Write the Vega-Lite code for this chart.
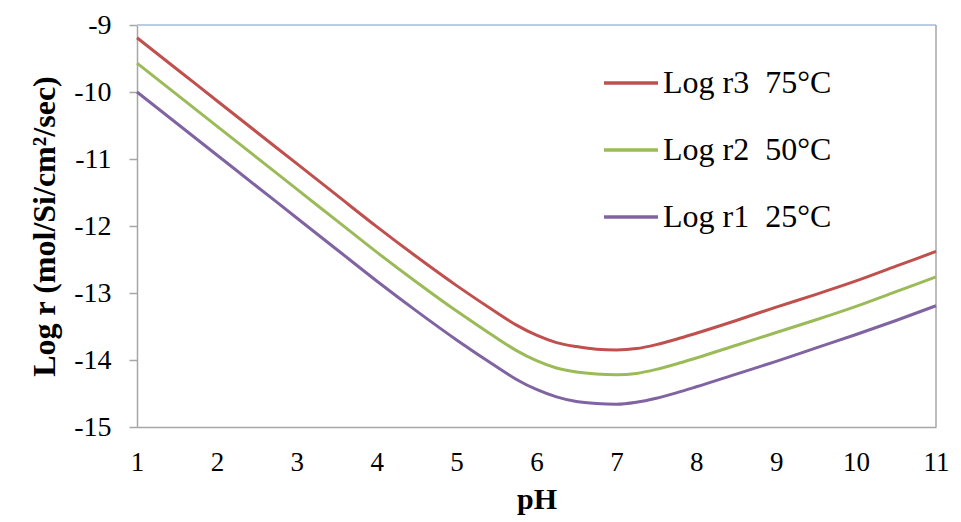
{
  "$schema": "https://vega.github.io/schema/vega-lite/v6.json",
  "autosize": "none",
  "width": 799,
  "height": 402,
  "padding": {"left": 137, "top": 25, "right": 25, "bottom": 95},
  "background": "white",
  "config": {
    "view": {"stroke": null},
    "font": "Liberation Serif"
  },
  "datasets": {
    "curves": [
      {"pH": 1, "series": "Log r3\u00a0 75°C", "logr": -9.19},
      {"pH": 1.5, "series": "Log r3\u00a0 75°C", "logr": -9.66},
      {"pH": 2, "series": "Log r3\u00a0 75°C", "logr": -10.13},
      {"pH": 2.5, "series": "Log r3\u00a0 75°C", "logr": -10.6},
      {"pH": 3, "series": "Log r3\u00a0 75°C", "logr": -11.07},
      {"pH": 3.5, "series": "Log r3\u00a0 75°C", "logr": -11.54},
      {"pH": 4, "series": "Log r3\u00a0 75°C", "logr": -12.01},
      {"pH": 4.5, "series": "Log r3\u00a0 75°C", "logr": -12.46},
      {"pH": 5, "series": "Log r3\u00a0 75°C", "logr": -12.89},
      {"pH": 5.5, "series": "Log r3\u00a0 75°C", "logr": -13.29},
      {"pH": 5.75, "series": "Log r3\u00a0 75°C", "logr": -13.48},
      {"pH": 6, "series": "Log r3\u00a0 75°C", "logr": -13.63},
      {"pH": 6.25, "series": "Log r3\u00a0 75°C", "logr": -13.74},
      {"pH": 6.5, "series": "Log r3\u00a0 75°C", "logr": -13.8},
      {"pH": 6.75, "series": "Log r3\u00a0 75°C", "logr": -13.84},
      {"pH": 7, "series": "Log r3\u00a0 75°C", "logr": -13.85},
      {"pH": 7.25, "series": "Log r3\u00a0 75°C", "logr": -13.83},
      {"pH": 7.5, "series": "Log r3\u00a0 75°C", "logr": -13.77},
      {"pH": 7.75, "series": "Log r3\u00a0 75°C", "logr": -13.69},
      {"pH": 8, "series": "Log r3\u00a0 75°C", "logr": -13.6},
      {"pH": 8.5, "series": "Log r3\u00a0 75°C", "logr": -13.41},
      {"pH": 9, "series": "Log r3\u00a0 75°C", "logr": -13.21},
      {"pH": 9.5, "series": "Log r3\u00a0 75°C", "logr": -13.02},
      {"pH": 10, "series": "Log r3\u00a0 75°C", "logr": -12.82},
      {"pH": 10.5, "series": "Log r3\u00a0 75°C", "logr": -12.6},
      {"pH": 11, "series": "Log r3\u00a0 75°C", "logr": -12.38},
      {"pH": 1, "series": "Log r2\u00a0 50°C", "logr": -9.57},
      {"pH": 1.5, "series": "Log r2\u00a0 50°C", "logr": -10.04},
      {"pH": 2, "series": "Log r2\u00a0 50°C", "logr": -10.51},
      {"pH": 2.5, "series": "Log r2\u00a0 50°C", "logr": -10.98},
      {"pH": 3, "series": "Log r2\u00a0 50°C", "logr": -11.45},
      {"pH": 3.5, "series": "Log r2\u00a0 50°C", "logr": -11.92},
      {"pH": 4, "series": "Log r2\u00a0 50°C", "logr": -12.39},
      {"pH": 4.5, "series": "Log r2\u00a0 50°C", "logr": -12.84},
      {"pH": 5, "series": "Log r2\u00a0 50°C", "logr": -13.27},
      {"pH": 5.5, "series": "Log r2\u00a0 50°C", "logr": -13.67},
      {"pH": 5.75, "series": "Log r2\u00a0 50°C", "logr": -13.86},
      {"pH": 6, "series": "Log r2\u00a0 50°C", "logr": -14.01},
      {"pH": 6.25, "series": "Log r2\u00a0 50°C", "logr": -14.12},
      {"pH": 6.5, "series": "Log r2\u00a0 50°C", "logr": -14.18},
      {"pH": 6.75, "series": "Log r2\u00a0 50°C", "logr": -14.21},
      {"pH": 7, "series": "Log r2\u00a0 50°C", "logr": -14.22},
      {"pH": 7.25, "series": "Log r2\u00a0 50°C", "logr": -14.2},
      {"pH": 7.5, "series": "Log r2\u00a0 50°C", "logr": -14.14},
      {"pH": 7.75, "series": "Log r2\u00a0 50°C", "logr": -14.06},
      {"pH": 8, "series": "Log r2\u00a0 50°C", "logr": -13.97},
      {"pH": 8.5, "series": "Log r2\u00a0 50°C", "logr": -13.78},
      {"pH": 9, "series": "Log r2\u00a0 50°C", "logr": -13.59},
      {"pH": 9.5, "series": "Log r2\u00a0 50°C", "logr": -13.4},
      {"pH": 10, "series": "Log r2\u00a0 50°C", "logr": -13.2},
      {"pH": 10.5, "series": "Log r2\u00a0 50°C", "logr": -12.98},
      {"pH": 11, "series": "Log r2\u00a0 50°C", "logr": -12.76},
      {"pH": 1, "series": "Log r1\u00a0 25°C", "logr": -10.0},
      {"pH": 1.5, "series": "Log r1\u00a0 25°C", "logr": -10.47},
      {"pH": 2, "series": "Log r1\u00a0 25°C", "logr": -10.94},
      {"pH": 2.5, "series": "Log r1\u00a0 25°C", "logr": -11.41},
      {"pH": 3, "series": "Log r1\u00a0 25°C", "logr": -11.88},
      {"pH": 3.5, "series": "Log r1\u00a0 25°C", "logr": -12.35},
      {"pH": 4, "series": "Log r1\u00a0 25°C", "logr": -12.82},
      {"pH": 4.5, "series": "Log r1\u00a0 25°C", "logr": -13.27},
      {"pH": 5, "series": "Log r1\u00a0 25°C", "logr": -13.7},
      {"pH": 5.5, "series": "Log r1\u00a0 25°C", "logr": -14.1},
      {"pH": 5.75, "series": "Log r1\u00a0 25°C", "logr": -14.29},
      {"pH": 6, "series": "Log r1\u00a0 25°C", "logr": -14.44},
      {"pH": 6.25, "series": "Log r1\u00a0 25°C", "logr": -14.55},
      {"pH": 6.5, "series": "Log r1\u00a0 25°C", "logr": -14.62},
      {"pH": 6.75, "series": "Log r1\u00a0 25°C", "logr": -14.65},
      {"pH": 7, "series": "Log r1\u00a0 25°C", "logr": -14.66},
      {"pH": 7.25, "series": "Log r1\u00a0 25°C", "logr": -14.63},
      {"pH": 7.5, "series": "Log r1\u00a0 25°C", "logr": -14.57},
      {"pH": 7.75, "series": "Log r1\u00a0 25°C", "logr": -14.49},
      {"pH": 8, "series": "Log r1\u00a0 25°C", "logr": -14.4},
      {"pH": 8.5, "series": "Log r1\u00a0 25°C", "logr": -14.21},
      {"pH": 9, "series": "Log r1\u00a0 25°C", "logr": -14.02},
      {"pH": 9.5, "series": "Log r1\u00a0 25°C", "logr": -13.82},
      {"pH": 10, "series": "Log r1\u00a0 25°C", "logr": -13.62},
      {"pH": 10.5, "series": "Log r1\u00a0 25°C", "logr": -13.41},
      {"pH": 11, "series": "Log r1\u00a0 25°C", "logr": -13.19}
    ]
  },
  "layer": [
    {
      "data": {"values": [{"top": -9}]},
      "mark": {"type": "rule", "color": "#b9cde5", "strokeWidth": 2},
      "encoding": {"y": {"field": "top", "type": "quantitative", "scale": {"domain": [-15, -9]}}}
    },
    {
      "data": {"values": [{"right": 11}]},
      "mark": {"type": "rule", "color": "#a6a6a6", "strokeWidth": 1.5},
      "encoding": {"x": {"field": "right", "type": "quantitative", "scale": {"domain": [1, 11]}}}
    },
    {
      "data": {"name": "curves"},
      "mark": {"type": "line", "strokeWidth": 3, "interpolate": "monotone"},
      "encoding": {
        "x": {
          "field": "pH", "type": "quantitative",
          "scale": {"domain": [1, 11], "nice": false, "zero": false},
          "axis": {
            "title": "pH", "values": [1,2,3,4,5,6,7,8,9,10,11], "format": "d",
            "ticks": false, "grid": false, "labelFlush": false,
            "domainColor": "#a6a6a6", "domainWidth": 1.5,
            "labelFont": "Liberation Serif", "labelFontSize": 27, "labelColor": "#000",
            "labelPadding": 22,
            "titleFont": "Liberation Serif", "titleFontSize": 30, "titleFontWeight": "bold", "titleColor": "#000",
            "titlePadding": 9
          }
        },
        "y": {
          "field": "logr", "type": "quantitative",
          "scale": {"domain": [-15, -9], "nice": false, "zero": false},
          "axis": {
            "title": "Log r (mol/Si/cm²/sec)", "values": [-15,-14,-13,-12,-11,-10,-9],
            "labelExpr": "'-' + abs(datum.value)", "labelFlush": false,
            "grid": false, "tickSize": 8, "tickColor": "#a6a6a6", "tickWidth": 1.5,
            "domainColor": "#a6a6a6", "domainWidth": 1.5,
            "labelFont": "Liberation Serif", "labelFontSize": 28, "labelColor": "#000",
            "labelPadding": 18,
            "titleFont": "Liberation Serif", "titleFontSize": 32, "titleFontWeight": "bold", "titleColor": "#000",
            "titlePadding": 12
          }
        },
        "color": {
          "field": "series", "type": "nominal",
          "scale": {
            "domain": ["Log r3\u00a0 75°C", "Log r2\u00a0 50°C", "Log r1\u00a0 25°C"],
            "range": ["#c0504d", "#9bbb59", "#8064a2"]
          },
          "legend": {
            "title": null, "orient": "none", "legendX": 465, "legendY": 29,
            "symbolType": "stroke", "symbolSize": 2916, "symbolStrokeWidth": 3.5,
            "labelFont": "Liberation Serif", "labelFontSize": 32, "labelColor": "#000",
            "labelOffset": 3, "rowPadding": 22, "padding": 0, "labelLimit": 400
          }
        }
      }
    }
  ]
}
